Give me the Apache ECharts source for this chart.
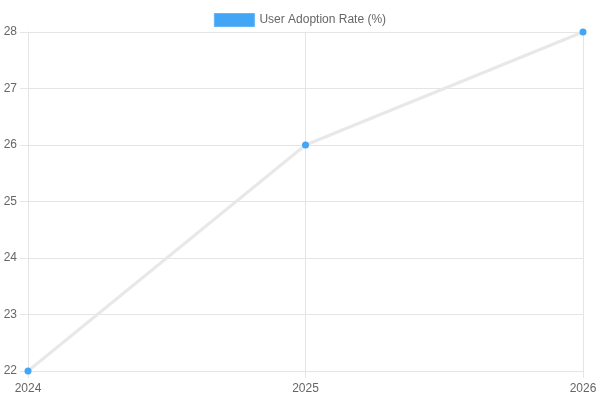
<!DOCTYPE html>
<html>
<head>
<meta charset="utf-8">
<script src="https://cdn.jsdelivr.net/npm/echarts@6/dist/echarts.min.js"></script>
<style>
  html, body { margin: 0; padding: 0; background: #fff; }
  #chart { width: 600px; height: 400px; }
</style>
</head>
<body>
<div id="chart"></div>
<script>
const years = ['2024', '2025', '2026'];
const adoptionRate = [22, 26, 28];
const seriesName = 'User Adoption Rate (%)';

const chart = echarts.init(document.getElementById('chart'));
const gridLine = { show: true, lineStyle: { color: '#e5e5e5', width: 1 } };

chart.setOption({
  animation: false,
  textStyle: { fontFamily: 'Liberation Sans, Arial, sans-serif' },
  legend: {
    top: 8,
    left: 'center',
    itemWidth: 40,
    itemHeight: 13,
    itemGap: 10,
    textStyle: { color: '#666', fontSize: 12 },
    data: [{
      name: seriesName,
      icon: 'rect',
      itemStyle: { color: '#42a5f5', borderColor: '#64b5f6', borderWidth: 1 }
    }]
  },
  grid: { left: 28, right: 17, top: 32, bottom: 29, containLabel: false },
  xAxis: {
    type: 'category',
    data: years,
    boundaryGap: false,
    axisLine: { show: true, lineStyle: { color: '#e5e5e5' } },
    axisTick: { show: true, length: 7, lineStyle: { color: '#e5e5e5' } },
    axisLabel: { color: '#666', fontSize: 12, margin: 12 },
    splitLine: gridLine
  },
  yAxis: {
    type: 'value',
    min: 22,
    max: 28,
    interval: 1,
    axisLine: { show: true, lineStyle: { color: '#e5e5e5' } },
    axisTick: { show: true, length: 8, lineStyle: { color: '#e5e5e5' } },
    axisLabel: { color: '#666', fontSize: 12, margin: 11 },
    splitLine: gridLine
  },
  series: [{
    name: seriesName,
    type: 'line',
    data: adoptionRate,
    symbol: 'circle',
    symbolSize: 7,
    itemStyle: { color: '#42a5f5' },
    lineStyle: { color: '#e8e8e8', width: 3 }
  }]
});
</script>
</body>
</html>
